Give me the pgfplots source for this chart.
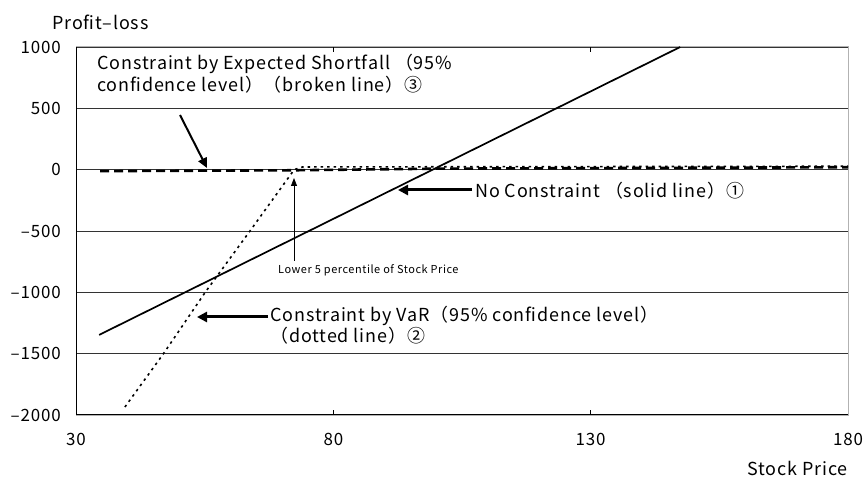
\documentclass[border=0pt]{standalone}
\usepackage{fontspec}
\setmainfont{Noto Sans CJK JP}[LetterSpace=5]
\usepackage{pgfplots}
\pgfplotsset{compat=1.18}
\usetikzlibrary{arrows.meta}
\newcommand{\lab}{\fontsize{18}{22}\selectfont}
\newcommand{\tck}{\fontsize{17}{17}\selectfont}
\newcommand{\sml}{\fontsize{11}{11}\selectfont}
\begin{document}
\begin{tikzpicture}
\useasboundingbox (0bp,0bp) rectangle (867bp,477bp);
\begin{axis}[
  at={(76bp,62bp)}, anchor=south west,
  scale only axis, width=772bp, height=368bp,
  xmin=30, xmax=180, ymin=-2000, ymax=1000,
  xtick={30,80,130,180}, xticklabels={30,80,130,180},
  ytick={-2000,-1500,-1000,-500,0,500,1000},
  yticklabels={–2000,–1500,–1000,–500,0,500,1000},
  ymajorgrids, grid style={black!80, line width=0.7bp},
  axis line style={gray!60, line width=1bp},
  tick align=inside, major tick length=5bp,
  xtick style={black, line width=0.8bp},
  ytick style={draw=none},
  xticklabel style={inner sep=0pt, anchor=north, yshift=-18bp, font=\tck},
  yticklabel style={inner sep=0pt, anchor=east, xshift=-15bp, font=\tck},
]
\addplot[black, line width=1.7bp] coordinates {(34.5,-1347) (99.3,0) (147.4,1000)};
\addplot[black, line width=1.6bp, dash pattern=on 2.5bp off 4bp] coordinates {(39.5,-1935) (47,-1500) (55.1,-1000) (63.8,-500) (72.4,0) (74,22) (180,28)};
\addplot[black, line width=2.6bp, dash pattern=on 9bp off 5bp] coordinates {(34.7,-12) (72,-5) (100,8) (180,20)};
\end{axis}
\draw[black, line width=1bp] (76bp,430bp) -- (76bp,62bp) -- (848bp,62bp);
% labels
\node[anchor=base west, inner sep=0pt, font=\lab] at (52bp,447bp) {Profit–loss};
\node[anchor=base east, inner sep=0pt, font=\lab] at (848bp,2bp) {Stock Price};
\node[anchor=base west, inner sep=0pt, font=\lab] at (97bp,407bp) {Constraint by Expected Shortfall （95\%};
\node[anchor=base west, inner sep=0pt, font=\lab] at (97bp,385bp) {confidence level）（broken line）③};
\node[anchor=base west, inner sep=0pt, font=\lab] at (475bp,279bp) {No Constraint （solid line）①};
\node[anchor=base west, inner sep=0pt, font=\lab] at (270bp,155bp) {Constraint by VaR（95\% confidence level）};
\node[anchor=base west, inner sep=0pt, font=\lab] at (270bp,134bp) {（dotted line）②};
\node[anchor=base west, inner sep=0pt, font=\sml] at (278bp,203bp) {Lower 5 percentile of Stock Price};
% arrows
\draw[line width=2bp, -{Triangle[length=10bp,width=9bp]}] (180bp,362bp) -- (207bp,309bp);
\draw[line width=0.8bp, -{Triangle[length=8bp,width=6bp]}] (294bp,216bp) -- (294bp,299bp);
\draw[line width=3bp, -{Triangle[length=10bp,width=10bp]}] (472bp,287bp) -- (398bp,287bp);
\draw[line width=3bp, -{Triangle[length=10bp,width=10bp]}] (268bp,160bp) -- (197bp,160bp);
\end{tikzpicture}
\end{document}
